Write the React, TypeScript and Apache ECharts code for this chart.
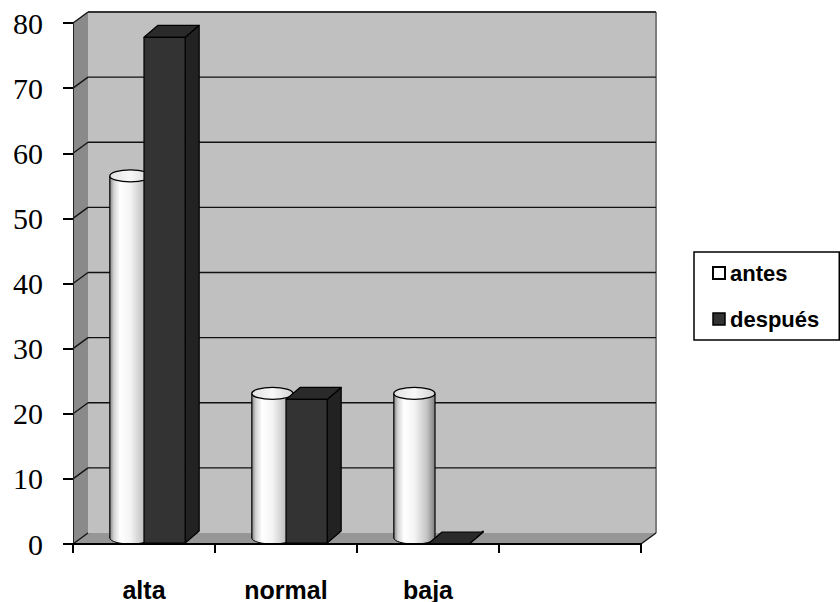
import React, { useEffect, useRef } from "react";
import * as echarts from "echarts";

const CATEGORIES = ["alta", "normal", "baja", ""];
const ANTES = [55.6, 22.2, 22.2];
const DESPUES = [77.8, 22.2, 0];
const Y_TICKS = [0, 10, 20, 30, 40, 50, 60, 70, 80];
const SERIES_NAMES = ["antes", "después"];

const WALL_DX = 15;
const WALL_DY = -11;
const BAR_DX = 14;
const BAR_DY = -12;
const BAR_RATIO = 0.29;

function renderWalls(params: any, api: any) {
  const cs = params.coordSys;
  const x0 = cs.x;
  const x1 = cs.x + cs.width;
  const yTopVal = api.coord([0, Y_TICKS[Y_TICKS.length - 1]])[1];
  const yBotVal = api.coord([0, Y_TICKS[0]])[1];
  const children: any[] = [];
  children.push({
    type: "rect",
    shape: { x: x0 + WALL_DX, y: yTopVal + WALL_DY, width: x1 - x0, height: yBotVal - yTopVal },
    style: { fill: "#c0c0c0" },
  });
  children.push({
    type: "polygon",
    shape: {
      points: [
        [x0, yTopVal],
        [x0 + WALL_DX, yTopVal + WALL_DY],
        [x0 + WALL_DX, yBotVal + WALL_DY],
        [x0, yBotVal],
      ],
    },
    style: { fill: "#8a8a8a" },
  });
  children.push({
    type: "polygon",
    shape: {
      points: [
        [x0, yBotVal],
        [x1, yBotVal],
        [x1 + WALL_DX, yBotVal + WALL_DY],
        [x0 + WALL_DX, yBotVal + WALL_DY],
      ],
    },
    style: { fill: "#969696" },
  });
  children.push({
    type: "line",
    shape: { x1: x1 + WALL_DX, y1: yTopVal + WALL_DY, x2: x1 + WALL_DX, y2: yBotVal + WALL_DY },
    style: { stroke: "#7e7e7e", lineWidth: 2 },
  });
  Y_TICKS.forEach((t) => {
    const y = api.coord([0, t])[1];
    if (t !== Y_TICKS[0]) {
      children.push({
        type: "line",
        shape: { x1: x0 + WALL_DX, y1: y + WALL_DY, x2: x1 + WALL_DX, y2: y + WALL_DY },
        style: { stroke: t === Y_TICKS[Y_TICKS.length - 1] ? "#333" : "#111", lineWidth: t === Y_TICKS[Y_TICKS.length - 1] ? 2 : 1.3 },
      });
    }
    children.push({
      type: "line",
      shape: { x1: x0, y1: y, x2: x0 + WALL_DX, y2: y + WALL_DY },
      style: { stroke: "#111", lineWidth: 1.3 },
    });
  });
  children.push({
    type: "line",
    shape: { x1: x1, y1: yBotVal, x2: x1 + WALL_DX, y2: yBotVal + WALL_DY },
    style: { stroke: "#111", lineWidth: 1.3 },
  });
  return { type: "group", children };
}

function renderCylinder(params: any, api: any) {
  const i = api.value(0);
  const v = api.value(1);
  const base = api.coord([i, 0]);
  const top = api.coord([i, v]);
  const slot = api.size([1, 0])[0];
  const bw = slot * BAR_RATIO;
  const rx = bw / 2;
  const cx = base[0] - bw / 2 + BAR_DX / 2;
  const yTop = top[1] + BAR_DY / 2;
  const yBot = base[1] + BAR_DY / 2;
  const ry = 6;
  const bodyGrad = () =>
    new echarts.graphic.LinearGradient(0, 0, 1, 0, [
      { offset: 0, color: "#858585" },
      { offset: 0.1, color: "#d4d4d4" },
      { offset: 0.25, color: "#ffffff" },
      { offset: 0.5, color: "#f4f4f4" },
      { offset: 0.8, color: "#c4c4c4" },
      { offset: 1, color: "#808080" },
    ]);
  const topGrad = new echarts.graphic.LinearGradient(0, 0, 1, 0, [
    { offset: 0, color: "#e2e2e2" },
    { offset: 0.5, color: "#f8f8f8" },
    { offset: 1, color: "#d2d2d2" },
  ]);
  return {
    type: "group",
    children: [
      { type: "ellipse", shape: { cx, cy: yBot, rx, ry }, style: { fill: bodyGrad(), stroke: "#000", lineWidth: 1 } },
      { type: "rect", shape: { x: cx - rx, y: yTop, width: 2 * rx, height: yBot - yTop }, style: { fill: bodyGrad() } },
      { type: "line", shape: { x1: cx - rx, y1: yTop, x2: cx - rx, y2: yBot }, style: { stroke: "#000", lineWidth: 1.2 } },
      { type: "line", shape: { x1: cx + rx, y1: yTop, x2: cx + rx, y2: yBot }, style: { stroke: "#000", lineWidth: 1.2 } },
      { type: "ellipse", shape: { cx, cy: yTop, rx, ry }, style: { fill: topGrad, stroke: "#000", lineWidth: 1.3 } },
    ],
  };
}

function renderBox(params: any, api: any) {
  const i = api.value(0);
  const v = api.value(1);
  const base = api.coord([i, 0]);
  const top = api.coord([i, v]);
  const slot = api.size([1, 0])[0];
  const bw = slot * BAR_RATIO;
  const left = base[0];
  const right = base[0] + bw;
  const yT = top[1];
  const yB = base[1] - 1;
  const stroke = { stroke: "#000", lineWidth: 1.2, lineJoin: "round" };
  return {
    type: "group",
    children: [
      {
        type: "polygon",
        shape: { points: [[right, yT], [right + BAR_DX, yT + BAR_DY], [right + BAR_DX, yB + BAR_DY], [right, yB]] },
        style: { fill: "#222222", ...stroke },
      },
      {
        type: "polygon",
        shape: { points: [[left, yT], [left + BAR_DX, yT + BAR_DY], [right + BAR_DX, yT + BAR_DY], [right, yT]] },
        style: { fill: "#2a2a2a", ...stroke },
      },
      {
        type: "rect",
        shape: { x: left, y: yT, width: bw, height: Math.max(0, yB - yT) },
        style: { fill: "#333333", ...stroke },
      },
    ],
  };
}

export default function App() {
  const ref = useRef<HTMLDivElement>(null);
  useEffect(() => {
    if (!ref.current) return;
    const chart = echarts.init(ref.current, null, { renderer: "svg" });
    const yMax = Y_TICKS[Y_TICKS.length - 1];
    chart.setOption({
      animation: false,
      backgroundColor: "#ffffff",
      grid: { left: 73, right: 199, top: 23, bottom: 58, containLabel: false },
      xAxis: {
        type: "category",
        data: CATEGORIES,
        boundaryGap: true,
        z: 10,
        axisLine: { show: true, lineStyle: { color: "#000", width: 2 } },
        axisTick: { show: true, length: 9, lineStyle: { color: "#000", width: 2 } },
        axisLabel: {
          margin: 33,
          color: "#000",
          fontFamily: "Liberation Sans",
          fontWeight: "bold",
          fontSize: 25,
        },
        splitLine: { show: false },
      },
      yAxis: {
        type: "value",
        min: Y_TICKS[0],
        max: yMax,
        interval: 10,
        z: 10,
        axisLine: { show: true, lineStyle: { color: "#222", width: 1 } },
        axisTick: { show: true, length: 10, lineStyle: { color: "#000", width: 2 } },
        axisLabel: {
          margin: 30,
          color: "#000",
          fontFamily: "Liberation Serif",
          fontSize: 30,
        },
        splitLine: { show: false },
      },
      legend: {
        orient: "vertical",
        left: 694,
        top: 252,
        padding: [10, 20, 10, 18],
        itemGap: 24,
        itemWidth: 12,
        itemHeight: 12,
        borderColor: "#000",
        borderWidth: 1.5,
        selectedMode: false,
        textStyle: { color: "#000", fontFamily: "Liberation Sans", fontWeight: "bold", fontSize: 22 },
        data: [
          { name: SERIES_NAMES[0], icon: "rect", itemStyle: { color: "#ffffff", borderColor: "#000", borderWidth: 2 } },
          { name: SERIES_NAMES[1], icon: "rect", itemStyle: { color: "#333333", borderColor: "#000", borderWidth: 1.5 } },
        ],
      },
      series: [
        {
          type: "custom",
          name: "walls",
          z: 1,
          silent: true,
          renderItem: renderWalls,
          data: [[0, 0]],
          encode: { x: 0, y: 1 },
        },
        {
          type: "custom",
          name: SERIES_NAMES[0],
          z: 3,
          renderItem: renderCylinder,
          itemStyle: { color: "#ffffff" },
          data: ANTES.map((v, i) => [i, v]),
          encode: { x: 0, y: 1 },
        },
        {
          type: "custom",
          name: SERIES_NAMES[1],
          z: 4,
          renderItem: renderBox,
          itemStyle: { color: "#333333" },
          data: DESPUES.map((v, i) => [i, v]),
          encode: { x: 0, y: 1 },
        },
      ],
    });
    return () => chart.dispose();
  }, []);
  return (
    <div
      ref={ref}
      style={{ position: "fixed", left: 0, top: 0, width: 840, height: 602, background: "#fff" }}
    />
  );
}
